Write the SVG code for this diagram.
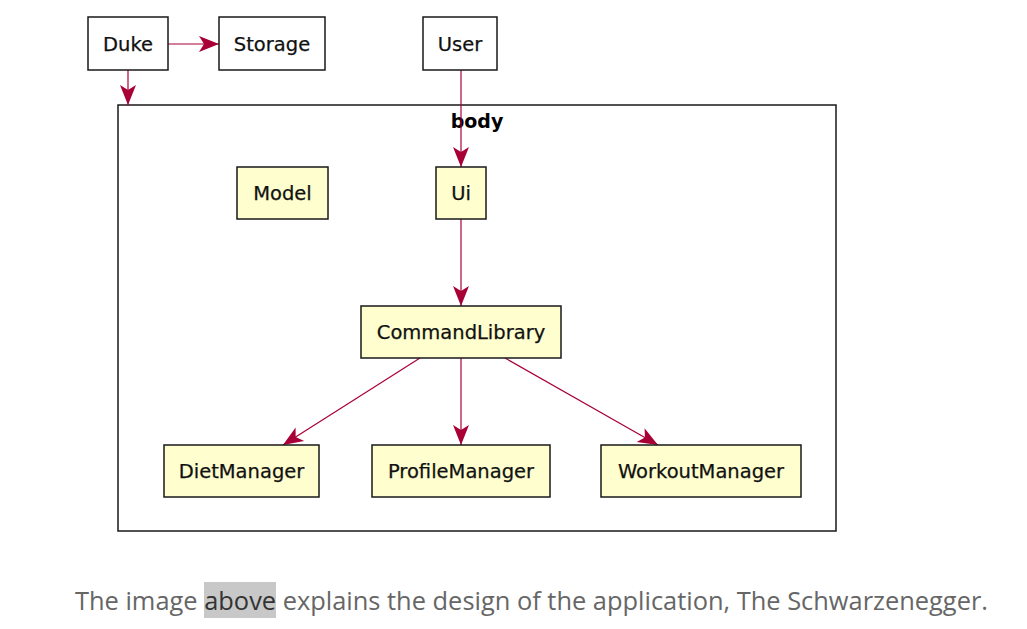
<svg xmlns="http://www.w3.org/2000/svg" width="1027" height="629" viewBox="0 0 1027 629">
<style>
.box{fill:#fff;stroke:#181818;stroke-width:1.5}
.cls{fill:#FEFECE;stroke:#181818;stroke-width:1.5}
.t{font-family:"DejaVu Sans",sans-serif;font-size:19.5px;fill:#111;stroke:#111;stroke-width:0.25;text-anchor:middle}
.c{stroke:#A80036;stroke-width:1.2;fill:none}
.cap{font-family:"Open Sans",sans-serif;font-size:25.4px;fill:#666}
</style>
<defs>
<marker id="ah" viewBox="0 0 20 20" refX="20" refY="10" markerWidth="20" markerHeight="20" markerUnits="userSpaceOnUse" orient="auto">
<path d="M0,2 L20,10 L0,18 L5,10 Z" fill="#A80036"/>
</marker>
</defs>
<rect width="1027" height="629" fill="#fff"/>
<g id="body">
<rect x="118" y="105" width="718" height="426" fill="none" stroke="#181818" stroke-width="1.5"/>
<text x="477" y="128" style="font-family:'DejaVu Sans',sans-serif;font-size:19px;font-weight:bold" text-anchor="middle">body</text>
</g>
<g id="connectors">
<line class="c" x1="168" y1="44" x2="219" y2="44" marker-end="url(#ah)"/>
<line class="c" x1="128" y1="70" x2="128" y2="105" marker-end="url(#ah)"/>
<line class="c" x1="461" y1="70" x2="461" y2="167" marker-end="url(#ah)"/>
<line class="c" x1="461" y1="219" x2="461" y2="306" marker-end="url(#ah)"/>
<line class="c" x1="420" y1="358" x2="283" y2="445" marker-end="url(#ah)"/>
<line class="c" x1="461" y1="358" x2="461" y2="445" marker-end="url(#ah)"/>
<line class="c" x1="505" y1="358" x2="658" y2="445" marker-end="url(#ah)"/>
</g>
<g id="Duke"><rect class="box" x="88" y="17" width="80" height="53"/><text class="t" x="128" y="51">Duke</text></g>
<g id="Storage"><rect class="box" x="219" y="17" width="106" height="53"/><text class="t" x="272" y="51">Storage</text></g>
<g id="User"><rect class="box" x="423" y="17" width="74" height="53"/><text class="t" x="460" y="51">User</text></g>
<g id="Model"><rect class="cls" x="237" y="167" width="91" height="52"/><text class="t" x="282.500" y="200">Model</text></g>
<g id="Ui"><rect class="cls" x="436" y="167" width="50" height="52"/><text class="t" x="461" y="200">Ui</text></g>
<g id="CommandLibrary"><rect class="cls" x="361" y="306" width="200" height="52"/><text class="t" x="461" y="339">CommandLibrary</text></g>
<g id="DietManager"><rect class="cls" x="164" y="445" width="155" height="52"/><text class="t" x="241.500" y="478">DietManager</text></g>
<g id="ProfileManager"><rect class="cls" x="372" y="445" width="178" height="52"/><text class="t" x="461" y="478">ProfileManager</text></g>
<g id="WorkoutManager"><rect class="cls" x="601" y="445" width="200" height="52"/><text class="t" x="701" y="478">WorkoutManager</text></g>
<rect x="204" y="582" width="72" height="36" fill="#c8c8c8"/>
<text class="cap" x="75" y="610" textLength="913" lengthAdjust="spacingAndGlyphs">The image <tspan fill="#333">above</tspan> explains the design of the application, The Schwarzenegger.</text>
</svg>
